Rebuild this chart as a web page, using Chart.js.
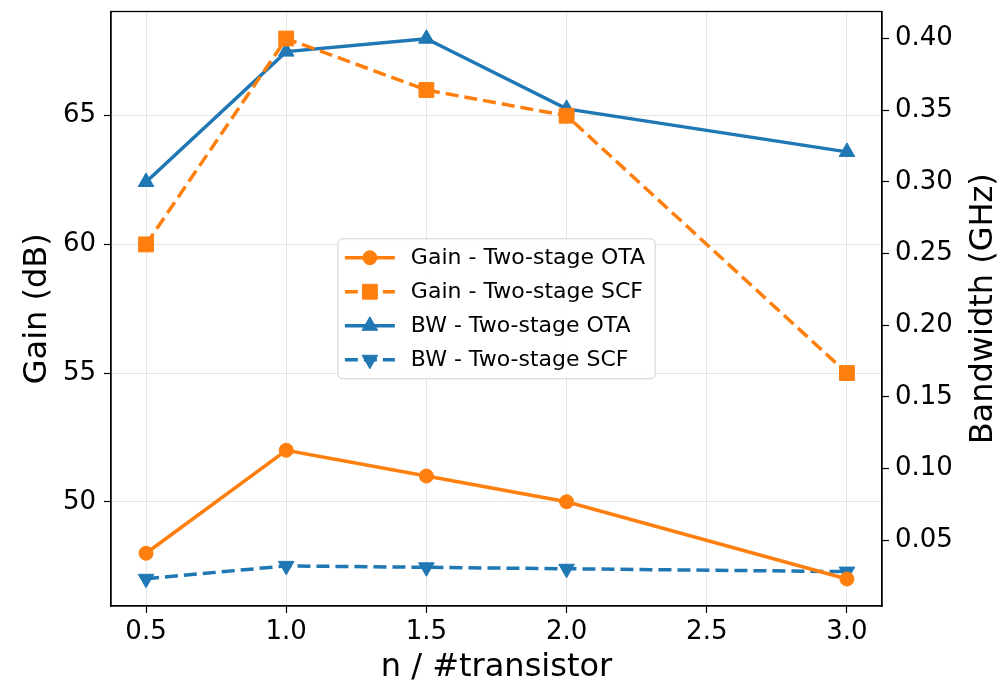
<!DOCTYPE html>
<html>
<head>
<meta charset="utf-8">
<script src="https://cdn.jsdelivr.net/npm/chart.js@4.4.1/dist/chart.umd.min.js"></script>
<style>
  html, body { margin: 0; padding: 0; background: #fff; }
  #wrap { width: 1000px; height: 688px; }
</style>
</head>
<body>
<div id="wrap"><canvas id="c" width="1000" height="688"></canvas></div>
<script>
// ---- data ----
const nValues = [0.5, 1.0, 1.5, 2.0, 3.0];
const gainOTA = [48, 52, 51, 50, 47];
const gainSCF = [60, 68, 66, 65, 55];
const bwOTA   = [0.30, 0.391, 0.40, 0.351, 0.321];
const bwSCF   = [0.023, 0.032, 0.031, 0.030, 0.028];

const xTicks     = [0.5, 1.0, 1.5, 2.0, 2.5, 3.0];
const gainTicks  = [50, 55, 60, 65];
const bwTicks    = [0.05, 0.10, 0.15, 0.20, 0.25, 0.30, 0.35, 0.40];

const seriesLabels = ['Gain - Two-stage OTA', 'Gain - Two-stage SCF', 'BW - Two-stage OTA', 'BW - Two-stage SCF'];
const xTitle = 'n / #transistor';
const yLeftTitle = 'Gain (dB)';
const yRightTitle = 'Bandwidth (GHz)';

const ORANGE = '#ff7f0e';
const BLUE = '#1f77b4';
const FONT = "'DejaVu Sans', sans-serif";

const toXY = (ys) => ys.map((y, i) => ({ x: nValues[i], y }));

function fixedTicks(arr) {
  return function (scale) { scale.ticks = arr.map(v => ({ value: v })); };
}

// legend + frame + right title plugin
const extras = {
  id: 'extras',
  afterDraw(chart) {
    const ctx = chart.ctx;
    const a = chart.chartArea;
    // frame
    ctx.save();
    ctx.strokeStyle = '#000';
    ctx.lineWidth = 1.3;
    ctx.strokeRect(a.left, a.top, a.right - a.left, a.bottom - a.top);
    ctx.restore();

    // right axis title (reads bottom-to-top)
    ctx.save();
    ctx.font = '32px ' + FONT;
    ctx.fillStyle = '#000';
    ctx.textAlign = 'center';
    ctx.textBaseline = 'middle';
    ctx.translate(984, (a.top + a.bottom) / 2);
    ctx.rotate(-Math.PI / 2);
    ctx.fillText(yRightTitle, 0, 0);
    ctx.restore();

    // legend (centered in axes)
    ctx.save();
    ctx.font = '22px ' + FONT;
    const ds = chart.data.datasets;
    let maxW = 0;
    ds.forEach(d => { maxW = Math.max(maxW, ctx.measureText(d.label).width); });
    const padL = 7, handle = 50, gap = 16, padR = 10;
    const rowH = 34;
    const w = padL + handle + gap + maxW + padR;
    const h = rowH * ds.length + 4;
    const cx = (a.left + a.right) / 2, cy = (a.top + a.bottom) / 2;
    const bx = cx - w / 2, by = cy - h / 2;
    // box
    const r = 5;
    ctx.beginPath();
    ctx.moveTo(bx + r, by);
    ctx.lineTo(bx + w - r, by);
    ctx.quadraticCurveTo(bx + w, by, bx + w, by + r);
    ctx.lineTo(bx + w, by + h - r);
    ctx.quadraticCurveTo(bx + w, by + h, bx + w - r, by + h);
    ctx.lineTo(bx + r, by + h);
    ctx.quadraticCurveTo(bx, by + h, bx, by + h - r);
    ctx.lineTo(bx, by + r);
    ctx.quadraticCurveTo(bx, by, bx + r, by);
    ctx.closePath();
    ctx.fillStyle = 'rgba(255,255,255,0.85)';
    ctx.fill();
    ctx.strokeStyle = '#d0d0d0';
    ctx.lineWidth = 1;
    ctx.stroke();

    ds.forEach((d, i) => {
      const y = by + 2 + rowH * (i + 0.5);
      const x0 = bx + padL, x1 = x0 + handle;
      ctx.save();
      ctx.strokeStyle = d.borderColor;
      ctx.lineWidth = d.borderWidth;
      ctx.setLineDash(d.borderDash || []);
      ctx.beginPath();
      ctx.moveTo(x0, y);
      ctx.lineTo(x1, y);
      ctx.stroke();
      ctx.setLineDash([]);
      ctx.fillStyle = d.pointBackgroundColor;
      ctx.strokeStyle = d.pointBorderColor;
      ctx.lineWidth = 1;
      if (Chart.helpers && Chart.helpers.drawPoint) {
        Chart.helpers.drawPoint(ctx, {
          pointStyle: d.pointStyle,
          rotation: d.pointRotation || 0,
          radius: d.pointRadius,
          borderWidth: 1
        }, (x0 + x1) / 2, y);
      }
      ctx.restore();
      ctx.fillStyle = '#000';
      ctx.textAlign = 'left';
      ctx.textBaseline = 'middle';
      ctx.fillText(d.label, x1 + gap, y + 1);
    });
    ctx.restore();
  }
};

const common = {
  borderWidth: 3.5,
  pointBorderWidth: 1,
  fill: false,
  tension: 0,
  clip: false
};

const data = {
  datasets: [
    Object.assign({}, common, {
      label: seriesLabels[0], data: toXY(gainOTA), yAxisID: 'y',
      borderColor: ORANGE, backgroundColor: ORANGE,
      pointBackgroundColor: ORANGE, pointBorderColor: ORANGE,
      pointStyle: 'circle', pointRadius: 7, pointHoverRadius: 7
    }),
    Object.assign({}, common, {
      label: seriesLabels[1], data: toXY(gainSCF), yAxisID: 'y',
      borderColor: ORANGE, backgroundColor: ORANGE, borderDash: [13, 6],
      pointBackgroundColor: ORANGE, pointBorderColor: ORANGE,
      pointStyle: 'rect', pointRadius: 10.5, pointHoverRadius: 10.5
    }),
    Object.assign({}, common, {
      label: seriesLabels[2], data: toXY(bwOTA), yAxisID: 'y1',
      borderColor: BLUE, backgroundColor: BLUE,
      pointBackgroundColor: BLUE, pointBorderColor: BLUE,
      pointStyle: 'triangle', pointRadius: 9, pointHoverRadius: 9
    }),
    Object.assign({}, common, {
      label: seriesLabels[3], data: toXY(bwSCF), yAxisID: 'y1',
      borderColor: BLUE, backgroundColor: BLUE, borderDash: [13, 6],
      pointBackgroundColor: BLUE, pointBorderColor: BLUE,
      pointStyle: 'triangle', pointRotation: 180, pointRadius: 9, pointHoverRadius: 9
    })
  ]
};

const tickFont = { family: FONT, size: 26 };
const titleFont = { family: FONT, size: 32 };
const GRID = '#e6e6e6';

function noPad(s) { s.paddingTop = 0; s.paddingBottom = 0; s.paddingLeft = 0; s.paddingRight = 0; }

new Chart(document.getElementById('c'), {
  type: 'line',
  data,
  plugins: [extras],
  options: {
    responsive: false,
    animation: false,
    events: [],
    layout: { padding: { top: 7, left: 0, right: 0, bottom: 0 } },
    plugins: { legend: { display: false }, tooltip: { enabled: false } },
    scales: {
      x: {
        type: 'linear', position: 'bottom',
        min: 0.375, max: 3.125,
        afterBuildTicks: fixedTicks(xTicks),
        afterFit(s) { s.height = 82; noPad(s); },
        ticks: { font: tickFont, color: '#000', padding: 4, maxRotation: 0,
                 callback: v => Number(v).toFixed(1) },
        grid: { color: GRID, lineWidth: 1, tickColor: '#000', tickLength: 7, tickWidth: 1.2 },
        border: { color: '#000', width: 1.3 },
        title: { display: true, text: xTitle, font: titleFont, color: '#000', padding: { top: 0, bottom: 1 } }
      },
      y: {
        type: 'linear', position: 'left',
        min: 45.95, max: 69.05,
        afterBuildTicks: fixedTicks(gainTicks),
        afterFit(s) { s.width = 111; noPad(s); },
        ticks: { font: tickFont, color: '#000', padding: 8, callback: v => String(v) },
        grid: { color: GRID, lineWidth: 1, tickColor: '#000', tickLength: 7, tickWidth: 1.2 },
        border: { color: '#000', width: 1.3 },
        title: { display: true, text: yLeftTitle, font: titleFont, color: '#000', padding: { top: 18, bottom: 0 } }
      },
      y1: {
        type: 'linear', position: 'right',
        min: 0.004, max: 0.419,
        afterBuildTicks: fixedTicks(bwTicks),
        afterFit(s) { s.width = 118; noPad(s); },
        ticks: { font: tickFont, color: '#000', padding: 6, callback: v => Number(v).toFixed(2) },
        grid: { drawOnChartArea: false, tickColor: '#000', tickLength: 7, tickWidth: 1.2 },
        border: { color: '#000', width: 1.3 }
      }
    }
  }
});
</script>
</body>
</html>
